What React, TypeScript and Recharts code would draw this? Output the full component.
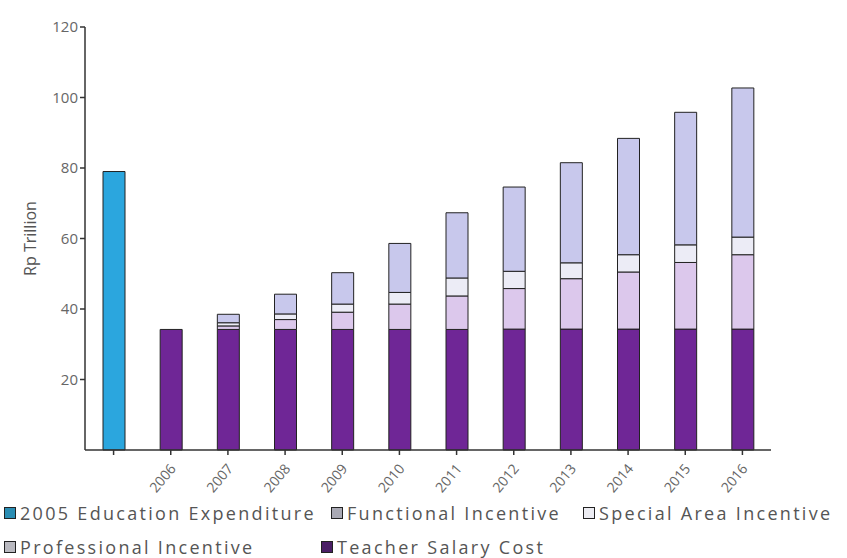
import React from 'react';
import { BarChart, Bar, XAxis, YAxis } from 'recharts';

const years = ['2005', '2006', '2007', '2008', '2009', '2010', '2011', '2012', '2013', '2014', '2015', '2016'];
const educationExpenditure = [79, null, null, null, null, null, null, null, null, null, null, null];
const teacherSalary = [null, 34.2, 34.2, 34.2, 34.2, 34.2, 34.2, 34.3, 34.3, 34.3, 34.3, 34.3];
const professionalIncentive = [null, null, 1.0, 2.8, 4.9, 7.2, 9.5, 11.5, 14.3, 16.2, 18.9, 21.1];
const specialAreaIncentive = [null, null, 0.9, 1.6, 2.3, 3.3, 5.1, 4.9, 4.5, 4.9, 5.0, 5.0];
const functionalIncentive = [null, null, 2.4, 5.6, 8.9, 13.9, 18.5, 23.9, 28.4, 33.0, 37.6, 42.3];
const yTicks = [20, 40, 60, 80, 100, 120];

const data = years.map((year, i) => ({
  year,
  edu: educationExpenditure[i],
  salary: teacherSalary[i],
  professional: professionalIncentive[i],
  special: specialAreaIncentive[i],
  functional: functionalIncentive[i],
}));

const legendRows = [
  [
    { label: '2005 Education Expenditure', icon: '#2a8db3', x: 4 },
    { label: 'Functional Incentive', icon: '#a9a9b4', x: 331 },
    { label: 'Special Area Incentive', icon: '#ececf2', x: 583 },
  ],
  [
    { label: 'Professional Incentive', icon: '#b9b9c0', x: 4 },
    { label: 'Teacher Salary Cost', icon: '#4b1f66', x: 321 },
  ],
];

const YearTick = ({ x, y, payload }: any) => {
  if (payload.value === '2005') return null;
  return (
    <text
      x={x + 6}
      y={y + 12}
      transform={`rotate(-50, ${x + 6}, ${y + 12})`}
      textAnchor="end"
      fill="#666"
      fontSize={14}
      fontFamily="'Open Sans', sans-serif"
    >
      {payload.value}
    </text>
  );
};

const App = () => {
  const font = "'Open Sans', sans-serif";
  return (
    <div style={{ position: 'absolute', left: 0, top: 0, width: 847, height: 558, background: '#fff' }}>
      <BarChart
        width={847}
        height={500}
        data={data}
        margin={{ top: 27, right: 76, left: 25, bottom: 5 }}
        barSize={22}
      >
        <XAxis
          dataKey="year"
          height={45}
          tick={<YearTick />}
          tickSize={5}
          stroke="#333"
          strokeWidth={1.5}
          interval={0}
        />
        <YAxis
          width={60}
          domain={[0, 120]}
          ticks={yTicks}
          tickSize={5}
          stroke="#333"
          strokeWidth={1.5}
          tick={{ fill: '#666', fontSize: 15, fontFamily: font }}
          label={{
            value: 'Rp Trillion',
            angle: -90,
            position: 'insideLeft',
            offset: 0,
            dx: 5,
            style: { fill: '#555', fontSize: 16, fontFamily: font, textAnchor: 'middle' },
          }}
        />
        <Bar dataKey="edu" stackId="a" fill="#2ba6de" stroke="#222" strokeWidth={1} isAnimationActive={false} />
        <Bar dataKey="salary" stackId="a" fill="#6f2696" stroke="#222" strokeWidth={1} isAnimationActive={false} />
        <Bar dataKey="professional" stackId="a" fill="#dcc8ec" stroke="#222" strokeWidth={1} isAnimationActive={false} />
        <Bar dataKey="special" stackId="a" fill="#ececf6" stroke="#222" strokeWidth={1} isAnimationActive={false} />
        <Bar dataKey="functional" stackId="a" fill="#c8c8ec" stroke="#222" strokeWidth={1} isAnimationActive={false} />
      </BarChart>
      {legendRows.map((row, r) =>
        row.map((item) => (
          <div
            key={item.label}
            style={{
              position: 'absolute',
              left: item.x,
              top: 501 + r * 34,
              display: 'flex',
              alignItems: 'center',
              fontFamily: font,
              fontSize: 18,
              letterSpacing: 2.3,
              color: '#555',
              whiteSpace: 'nowrap',
            }}
          >
            <span
              style={{
                display: 'inline-block',
                width: 10,
                height: 10,
                border: '1.5px solid #222',
                background: item.icon,
                marginRight: 4,
              }}
            />
            {item.label}
          </div>
        ))
      )}
    </div>
  );
};

export default App;
